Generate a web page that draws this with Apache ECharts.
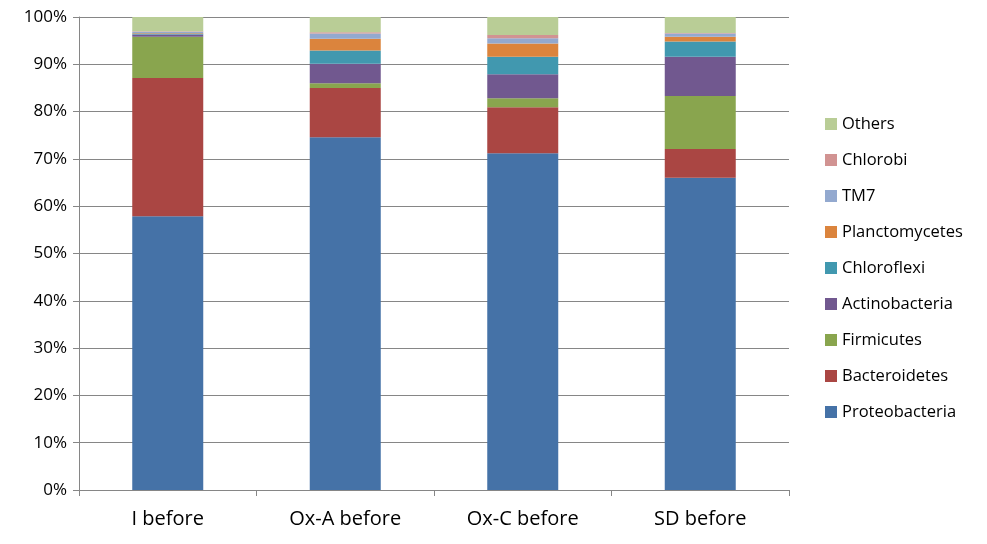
<!DOCTYPE html>
<html><head><meta charset="utf-8">
<script src="https://cdn.jsdelivr.net/npm/echarts@6/dist/echarts.min.js"></script>
<style>html,body{margin:0;padding:0;background:#fff}#c{width:987px;height:544px}</style>
</head><body><div id="c"></div>
<script>
var categories = ['I before', 'Ox-A before', 'Ox-C before', 'SD before'];
var seriesNames = ['Proteobacteria','Bacteroidetes','Firmicutes','Actinobacteria','Chloroflexi','Planctomycetes','TM7','Chlorobi','Others'];
var proteobacteria = [57.9, 74.6, 71.2, 66.0];
var bacteroidetes  = [29.2, 10.4, 9.7, 6.1];
var firmicutes     = [8.7, 1.0, 1.9, 11.2];
var actinobacteria = [0.5, 4.1, 5.1, 8.3];
var chloroflexi    = [0.2, 2.8, 3.7, 3.2];
var planctomycetes = [0.1, 2.5, 2.8, 1.0];
var tm7            = [0.3, 1.1, 1.1, 0.7];
var chlorobi       = [0.1, 0.3, 0.7, 0.1];
var others         = [3.0, 3.2, 3.8, 3.4];
var yTicks = [0,10,20,30,40,50,60,70,80,90,100];
var values = [proteobacteria, bacteroidetes, firmicutes, actinobacteria, chloroflexi, planctomycetes, tm7, chlorobi, others];
var colors = ['#4572A7','#AA4643','#89A54E','#71588F','#4198AF','#DB843D','#93A9CF','#D19392','#B9CD96'];
var font = 'Open Sans, Noto Sans, sans-serif';
var chart = echarts.init(document.getElementById('c'));
chart.setOption({
  animation: false,
  grid: {left: 79, right: 198, top: 17, bottom: 54},
  legend: {
    orient: 'vertical', left: 820, top: 108,
    data: seriesNames.slice().reverse(),
    icon: 'rect', itemWidth: 12, itemHeight: 12, itemGap: 14,
    textStyle: {fontFamily: font, fontSize: 16.5, color: '#000', lineHeight: 22}
  },
  xAxis: {
    type: 'category', data: categories,
    axisLine: {lineStyle: {color: '#868686'}},
    axisTick: {show: true, length: 6, lineStyle: {color: '#868686'}},
    axisLabel: {fontFamily: font, fontSize: 20, color: '#000', margin: 19}
  },
  yAxis: {
    type: 'value', min: 0, max: 100, interval: 10,
    axisLine: {show: true, lineStyle: {color: '#868686'}},
    axisTick: {show: true, length: 6, lineStyle: {color: '#868686'}},
    splitLine: {lineStyle: {color: '#868686'}},
    axisLabel: {fontFamily: font, fontSize: 17, color: '#000', margin: 12,
      formatter: function(v){ return yTicks.indexOf(v) >= 0 ? v + '%' : ''; }}
  },
  series: seriesNames.map(function(n, i){
    return {name: n, type: 'bar', stack: 'a', barWidth: '40%', data: values[i],
      itemStyle: {color: colors[i]}};
  })
});
</script></body></html>
